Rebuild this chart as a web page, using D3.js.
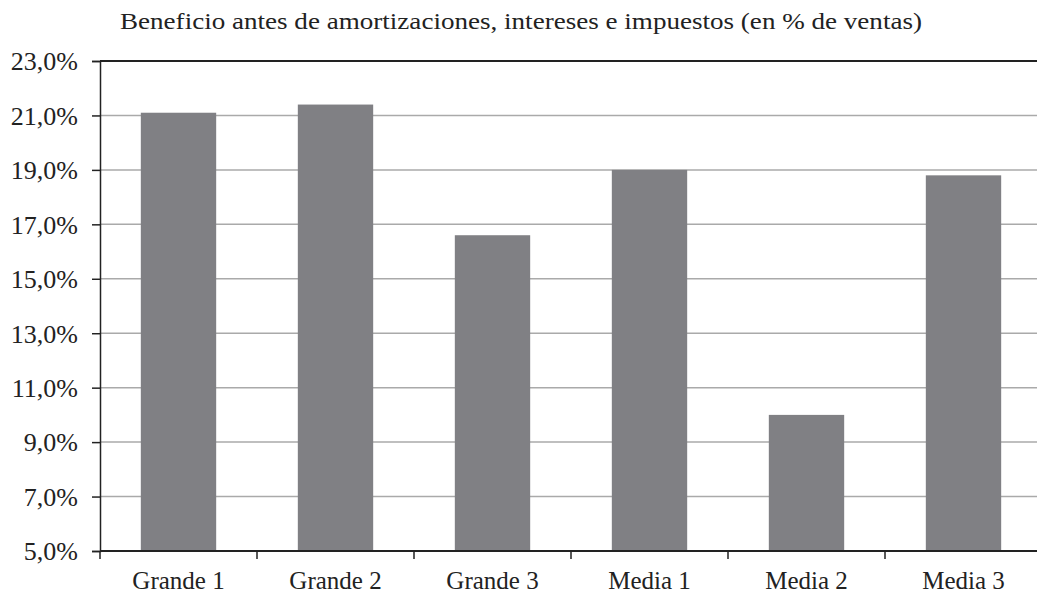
<!DOCTYPE html>
<html><head><meta charset="utf-8">
<script src="https://cdn.jsdelivr.net/npm/d3@7"></script>
<style>body{margin:0;background:#fff}svg{display:block}text{font-family:"Liberation Serif","Times New Roman",serif;fill:#222}</style>
</head><body>
<script>
const categories = ["Grande 1","Grande 2","Grande 3","Media 1","Media 2","Media 3"];
const values = [21.1, 21.4, 16.6, 19.0, 10.0, 18.8];
const yTicks = [5,7,9,11,13,15,17,19,21,23];
const title = "Beneficio antes de amortizaciones, intereses e impuestos (en % de ventas)";

const W = 1037, H = 596;
const m = {left:100, top:61, right:-5, bottom:45};
const svg = d3.select("body").append("svg").attr("width",W).attr("height",H);
const x = d3.scaleBand().domain(categories).range([m.left, W - m.right]).paddingInner(0.52).paddingOuter(0.26);
const y = d3.scaleLinear().domain([5,23]).range([H - m.bottom, m.top]);
const fmt = d => d.toFixed(1).replace(".", ",") + "%";

// gridlines
svg.append("g").selectAll("line").data(yTicks.filter(d=>d>5)).join("line")
  .attr("x1", m.left).attr("x2", W - m.right)
  .attr("y1", d=>y(d)).attr("y2", d=>y(d))
  .attr("stroke", d=> d===23 ? "#222" : "#aaa").attr("stroke-width", d=> d===23 ? 1.8 : 1.5);

// bars
svg.append("g").selectAll("rect").data(values).join("rect")
  .attr("x", (d,i)=>x(categories[i])).attr("width", x.bandwidth())
  .attr("y", d=>y(d)).attr("height", d=>y(5)-y(d)).attr("fill","#808084");

// y axis
const ya = svg.append("g").attr("transform",`translate(${m.left},0)`)
  .call(d3.axisLeft(y).tickValues(yTicks).tickFormat(fmt).tickSize(8).tickPadding(14));
ya.select(".domain").attr("stroke","#222").attr("stroke-width",1.5);
ya.selectAll(".tick line").attr("stroke","#222").attr("stroke-width",1.5);
ya.selectAll("text").attr("font-size",26).attr("fill","#222").attr("dy","0.34em");

// x axis
const step = x.step();
const bounds = d3.range(categories.length+1).map(i => x.range()[0] + i*step);
const xa = svg.append("g");
xa.append("line").attr("x1", m.left).attr("x2", W - m.right).attr("y1", y(5)).attr("y2", y(5)).attr("stroke","#222").attr("stroke-width",1.8);
xa.selectAll("line.t").data(bounds).join("line").attr("class","t")
  .attr("x1", d=>d).attr("x2", d=>d).attr("y1", y(5)).attr("y2", y(5)+8).attr("stroke","#222").attr("stroke-width",1.5);
xa.selectAll("text").data(categories).join("text")
  .attr("x", d=>x(d)+x.bandwidth()/2).attr("y", 589).attr("text-anchor","middle").attr("font-size",25).text(d=>d);

svg.append("text").attr("x",120).attr("y",29).attr("font-size",23)
  .attr("textLength",802).attr("lengthAdjust","spacingAndGlyphs").text(title);
</script>
</body></html>
